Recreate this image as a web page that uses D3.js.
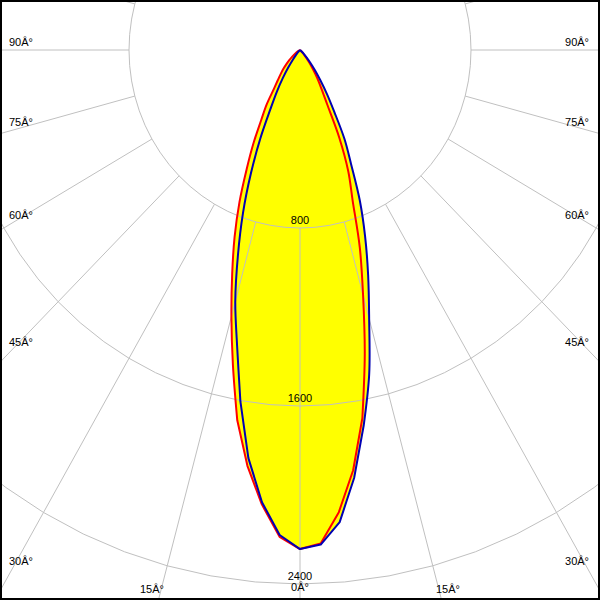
<!DOCTYPE html>
<html><head><meta charset="utf-8">
<script src="https://cdn.jsdelivr.net/npm/d3@7/dist/d3.min.js"></script>
<style>html,body{margin:0;padding:0;background:#fff}svg{display:block}</style>
</head><body><svg id="c" width="600" height="600"></svg>
<script>
// gamma angles (degrees from nadir)
const gammaAngles = [0,2.5,5,7.5,10,12.5,15,17.5,20,22.5,25,27.5,30,32.5,35,37.5,40,42.5,45,47.5,50,55,60,65,70,75,80,85,90];
// C0-C180 plane (red): left half = C180, right half = C0
const c180 = [2243,2190,2050,1885,1690,1450,1240,1055,895,740,590,470,362,290,212,170,140,115,90,68,50,25,10,3,0,0,0,0,0];
const c0   = [2243,2220,2085,1905,1680,1400,1140,930,720,590,435,275,200,150,105,70,45,28,15,7,3,0,0,0,0,0,0,0,0];
// C90-C270 plane (blue): left half = C270, right half = C90
const c270 = [2243,2182,2040,1850,1605,1360,1170,965,780,600,440,300,218,150,95,55,30,15,8,4,2,0,0,0,0,0,0,0,0];
const c90  = [2243,2225,2130,1940,1715,1495,1250,1060,890,730,565,450,320,235,165,115,75,45,25,12,5,1,0,0,0,0,0,0,0];
const ringValues = [800,1600,2400];
const ringLabels = ["800","1600","2400"];
const angleTicks = [0,15,30,45,60,75,90];
const angleTickLabels = ["0Â°","15Â°","30Â°","45Â°","60Â°","75Â°","90Â°"];

const W = 600, H = 600, cx = 300, cy = 50;
const svg = d3.select("#c");
const sx = d3.scaleLinear().domain([0,2400]).range([0,513]);
const sy = d3.scaleLinear().domain([0,2400]).range([0,534]);
const rad = d => d*Math.PI/180;
const pt = (I, a, side) => [cx + side*sx(I)*Math.sin(rad(a)), cy + sy(I)*Math.cos(rad(a))];

const line = d3.line();
const smooth = d3.line().curve(d3.curveCatmullRom.alpha(0.5));
// smooth flanks, straight segments near the nadir
function curvePath(left, right){
  const k = gammaAngles.indexOf(10);
  const L = [], R = [], B = [];
  for (let i = gammaAngles.length-1; i >= k; i--) L.push(pt(left[i], gammaAngles[i], -1));
  for (let i = k; i >= 0; i--) B.push(pt(left[i], gammaAngles[i], -1));
  for (let i = 1; i <= k; i++) B.push(pt(right[i], gammaAngles[i], 1));
  for (let i = k; i < gammaAngles.length; i++) R.push(pt(right[i], gammaAngles[i], 1));
  return smooth(L) + line(B).replace(/^M/,"L") + smooth(R).replace(/^M/,"L");
}
const redD = curvePath(c180, c0), blueD = curvePath(c270, c90);

svg.append("rect").attr("width",W).attr("height",H).attr("fill","#fff");
const clip = svg.append("defs").append("clipPath").attr("id","cl");
clip.append("rect").attr("width",W).attr("height",H);
const g = svg.append("g").attr("clip-path","url(#cl)");

// yellow fill (union of both planes)
[redD, blueD].forEach(d => g.append("path").attr("d", d+"Z").attr("fill","#ffff00").attr("stroke","none"));

// grid rings
const ringAngles = d3.range(0, 361, 5);
ringValues.forEach(v => {
  g.append("path").attr("d", line(ringAngles.map(a => pt(v, a, 1))))
    .attr("fill","none").attr("stroke","#c0c0c0").attr("stroke-width",1);
});
// radial lines
d3.range(0, 360, 15).forEach(a => {
  const p0 = pt(ringValues[0], a, 1), p1 = pt(6000, a, 1);
  g.append("line").attr("x1",p0[0]).attr("y1",p0[1]).attr("x2",p1[0]).attr("y2",p1[1])
    .attr("stroke","#c0c0c0").attr("stroke-width",1);
});

// curves
g.append("path").attr("d", redD).attr("fill","none").attr("stroke","#ff0000").attr("stroke-width",2).attr("stroke-linejoin","round");
g.append("path").attr("d", blueD).attr("fill","none").attr("stroke","#0000b4").attr("stroke-width",2).attr("stroke-linejoin","round");

// ring labels
const font = "'Liberation Sans', Arial, sans-serif";
ringValues.forEach((v,i) => {
  svg.append("text").attr("x", cx).attr("y", cy + sy(v) - 4).attr("text-anchor","middle")
    .attr("font-family", font).attr("font-size", 11).attr("fill","#000").text(ringLabels[i]);
});

// angle labels placement
const sideY = {90:46, 75:126, 60:219, 45:346, 30:565};
angleTicks.forEach((a,i) => {
  const t = angleTickLabels[i];
  if (a === 0) {
    svg.append("text").attr("x",cx).attr("y",591).attr("text-anchor","middle")
      .attr("font-family",font).attr("font-size",11).text(t);
  } else if (a === 15) {
    [-1,1].forEach(s => svg.append("text").attr("x",cx + s*148).attr("y",593).attr("text-anchor","middle")
      .attr("font-family",font).attr("font-size",11).text(t));
  } else {
    svg.append("text").attr("x",9).attr("y",sideY[a]).attr("text-anchor","start")
      .attr("font-family",font).attr("font-size",11).text(t);
    svg.append("text").attr("x",589).attr("y",sideY[a]).attr("text-anchor","end")
      .attr("font-family",font).attr("font-size",11).text(t);
  }
});

// frame
svg.append("rect").attr("x",1).attr("y",1).attr("width",598).attr("height",598)
  .attr("fill","none").attr("stroke","#000").attr("stroke-width",2);
</script>
</body></html>
